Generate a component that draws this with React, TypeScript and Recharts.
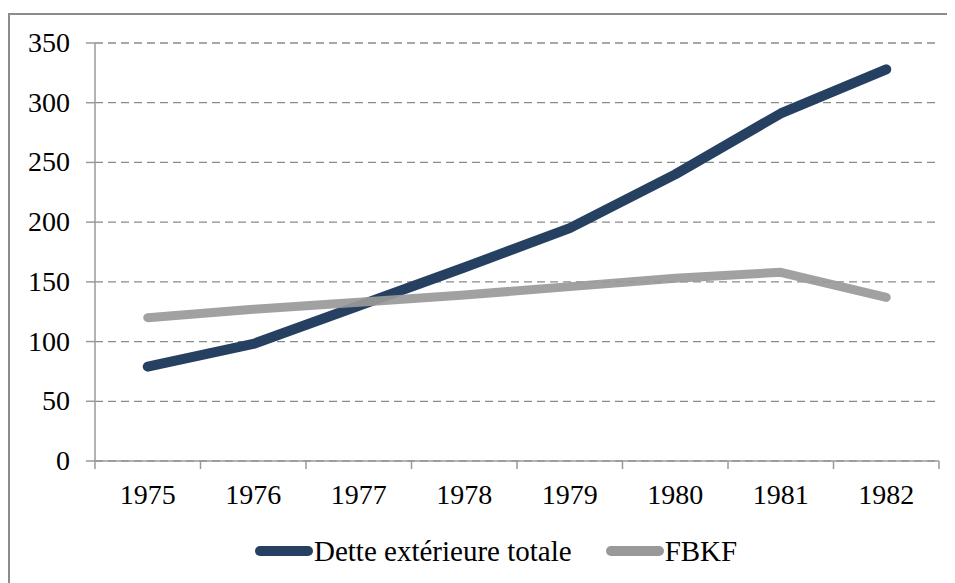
import { CartesianGrid, Legend, Line, LineChart, XAxis, YAxis } from 'recharts';

const years = ['1975', '1976', '1977', '1978', '1979', '1980', '1981', '1982'];
const dette = [79, 98, 130, 162, 195, 240, 291, 328];
const fbkf = [120, 127, 133, 139, 146, 153, 158, 137];
const yTicks = [0, 50, 100, 150, 200, 250, 300, 350];

const data = years.map((year, i) => ({ year, dette: dette[i], fbkf: fbkf[i] }));

const FONT = '"Liberation Serif", "Times New Roman", serif';
const AXIS = '#9a9a9a';

// category label plus tick marks on the band edges
function XTick(props: any) {
  const { x, y, payload, index, visibleTicksCount, width } = props;
  const band = width && visibleTicksCount ? width / visibleTicksCount : 105.5;
  const left = x - band / 2;
  const right = x + band / 2;
  return (
    <g>
      <line x1={left} x2={left} y1={y} y2={y + 8} stroke={AXIS} strokeWidth={1.5} />
      {index === visibleTicksCount - 1 && (
        <line x1={right} x2={right} y1={y} y2={y + 8} stroke={AXIS} strokeWidth={1.5} />
      )}
      <text x={x} y={y + 43} textAnchor="middle" style={{ fontFamily: FONT, fontSize: 28 }} fill="#000">
        {payload.value}
      </text>
    </g>
  );
}

function YTick(props: any) {
  const { x, y, payload } = props;
  return (
    <text x={x} y={y + 9} textAnchor="end" style={{ fontFamily: FONT, fontSize: 28 }} fill="#000">
      {payload.value}
    </text>
  );
}

function LegendContent(props: any) {
  const items = props.payload || [];
  return (
    <div style={{ display: 'flex', alignItems: 'center', height: 52, paddingLeft: 247, paddingTop: 8, boxSizing: 'border-box' }}>
      {items.map((it: any, i: number) => (
        <div key={i} style={{ display: 'flex', alignItems: 'center', marginRight: 34 }}>
          <svg width={60} height={14}>
            <line x1={5} x2={53} y1={7} y2={7} stroke={it.color} strokeWidth={10} strokeLinecap="round" />
          </svg>
          <span style={{ fontFamily: FONT, fontSize: 29, color: '#000', marginLeft: -1, lineHeight: 1 }}>{it.value}</span>
        </div>
      ))}
    </div>
  );
}

export default function App() {
  return (
    <div style={{ position: 'relative', width: 947, height: 575, overflow: 'hidden', background: '#fff' }}>
      <div
        style={{
          position: 'absolute',
          left: 0,
          top: 5,
          width: 1000,
          height: 700,
          border: '2px solid #8c8c8c',
          boxSizing: 'border-box',
        }}
      />
      <LineChart
        width={947}
        height={575}
        data={data}
        margin={{ top: 35, right: 16, bottom: 10, left: 0 }}
        style={{ position: 'absolute', left: 0, top: 0 }}
      >
        <CartesianGrid vertical={false} stroke="#8a8a8a" strokeDasharray="8 5" strokeWidth={1.3} />
        <XAxis
          dataKey="year"
          scale="band"
          interval={0}
          tickLine={false}
          tickSize={0}
          tickMargin={0}
          tick={<XTick />}
          height={60}
          axisLine={{ stroke: AXIS, strokeWidth: 1.5 }}
        />
        <YAxis
          domain={[0, 350]}
          ticks={yTicks}
          width={87}
          tickSize={9}
          tickMargin={16}
          tick={<YTick />}
          tickLine={{ stroke: AXIS, strokeWidth: 1.5 }}
          axisLine={{ stroke: AXIS, strokeWidth: 1.5 }}
          interval={0}
        />
        <Legend verticalAlign="bottom" height={52} content={<LegendContent />} />
        <Line
          type="linear"
          dataKey="dette"
          name="Dette extérieure totale"
          stroke="#264061"
          strokeWidth={10}
          strokeLinecap="round"
          strokeLinejoin="round"
          dot={false}
          isAnimationActive={false}
        />
        <Line
          type="linear"
          dataKey="fbkf"
          name="FBKF"
          stroke="#999999"
          strokeWidth={9}
          strokeLinecap="round"
          strokeLinejoin="round"
          strokeOpacity={0.92}
          dot={false}
          isAnimationActive={false}
        />
      </LineChart>
    </div>
  );
}
